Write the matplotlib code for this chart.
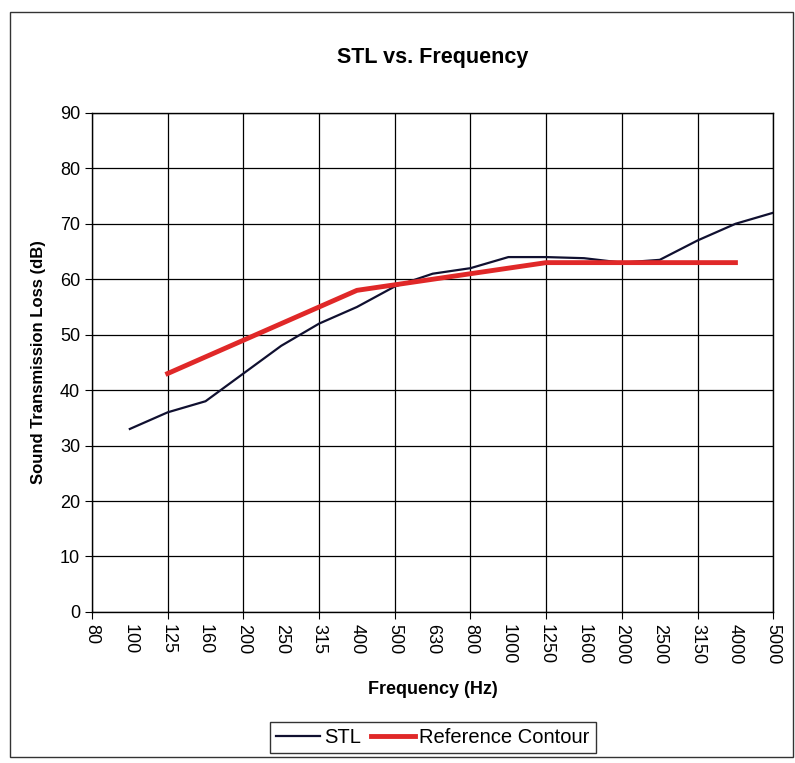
# STL vs. Frequency chart with STC reference contour.

import matplotlib.pyplot as plt
from matplotlib.patches import Rectangle

freqs = ['80', '100', '125', '160', '200', '250', '315', '400', '500', '630',
         '800', '1000', '1250', '1600', '2000', '2500', '3150', '4000', '5000']
stl_freqs = freqs[1:]
stl = [33, 36, 38, 43, 48, 52, 55, 58.7, 61, 62, 64, 64, 63.8, 63, 63.5, 67, 70, 72]
ref_freqs = freqs[2:18]
ref = [43, 46, 49, 52, 55, 58, 59, 60, 61, 62, 63, 63, 63, 63, 63, 63]


def Chart():
    plt.rcParams['font.family'] = ['Liberation Sans', 'DejaVu Sans']
    fig = plt.figure(figsize=(7.95, 7.63), dpi=100)
    ax = fig.add_axes([0.1157, 0.198, 0.857, 0.654])

    xs = [freqs.index(f) for f in stl_freqs]
    xr = [freqs.index(f) for f in ref_freqs]
    ax.plot(xs, stl, color='#101030', linewidth=1.6, label='STL')
    ax.plot(xr, ref, color='#e02828', linewidth=3.5, label='Reference Contour')

    ax.set_xlim(0, len(freqs) - 1)
    ax.set_ylim(0, 90)
    ax.set_yticks(range(0, 91, 10))
    major = list(range(0, len(freqs), 2))
    minor = list(range(1, len(freqs), 2))
    ax.set_xticks(major)
    ax.set_xticklabels([freqs[i] for i in major], rotation=-90, fontsize=13)
    ax.set_xticks(minor, minor=True)
    ax.set_xticklabels([freqs[i] for i in minor], minor=True, rotation=-90, fontsize=13)
    ax.tick_params(axis='x', which='major', length=5, color='black', pad=4)
    ax.tick_params(axis='x', which='minor', length=0, pad=9)
    ax.tick_params(axis='y', labelsize=13, length=5)
    ax.grid(True, which='major', color='black', linewidth=0.9)
    for s in ax.spines.values():
        s.set_color('black')
        s.set_linewidth(1.0)

    ax.set_title('STL vs. Frequency', fontsize=15.5, fontweight='bold', pad=36)
    ax.set_xlabel('Frequency (Hz)', fontsize=13, fontweight='bold', labelpad=12)
    ax.set_ylabel('Sound Transmission Loss (dB)', fontsize=12, fontweight='bold', labelpad=10)

    leg = ax.legend(loc='upper center', bbox_to_anchor=(0.5, -0.2), ncol=2,
                    fontsize=14.5, frameon=True, fancybox=False, handlelength=2.2,
                    handletextpad=0.2, columnspacing=0.5, borderpad=0.3)
    leg.get_frame().set_edgecolor('black')
    leg.get_frame().set_linewidth(1.0)

    fig.patches.append(Rectangle((0.012, 0.008), 0.986, 0.976, transform=fig.transFigure,
                                 fill=False, edgecolor='#333333', linewidth=1.0))
    fig.savefig('out.png', dpi=100)


def main():
    Chart()


if __name__ == "__main__":
    main()
